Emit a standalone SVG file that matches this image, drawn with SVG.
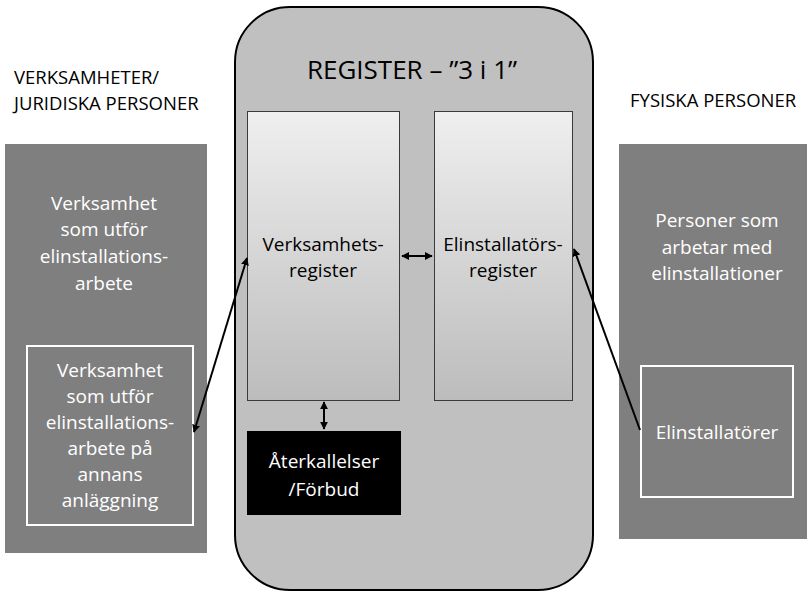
<svg xmlns="http://www.w3.org/2000/svg" width="807" height="592" viewBox="0 0 807 592">
<style>
  text { font-family: "Open Sans", "Liberation Sans", sans-serif; font-size: 19px; text-anchor: middle; }
  .w { fill: #ffffff; }
  .k { fill: #000000; }
  .hdr { text-anchor: start; font-size: 18.5px; }
  .panel { fill: #7f7f7f; }
  .inner { fill: none; stroke: #ffffff; stroke-width: 2; }
  .reg { fill: url(#g); stroke: #3a3a3a; stroke-width: 1; }
  .conn { stroke: #000; stroke-width: 2; fill: none; }
</style>
<defs>
  <linearGradient id="g" x1="0" y1="0" x2="0" y2="1">
    <stop offset="0" stop-color="#efefef"/>
    <stop offset="1" stop-color="#bcbcbc"/>
  </linearGradient>
  <marker id="ah" viewBox="0 0 10 10" refX="9" refY="5" markerWidth="4" markerHeight="4" orient="auto-start-reverse" markerUnits="strokeWidth">
    <path d="M0,0 L10,5 L0,10 z" fill="#000"/>
  </marker>
</defs>

<g id="register">
  <rect x="235" y="7" width="358" height="583" rx="55" ry="55" fill="#c0c0c0" stroke="#000" stroke-width="2"/>
  <text class="k" x="412" y="79" style="font-size:26px">REGISTER – ”3 i 1”</text>
</g>

<g id="hdr-left">
  <text class="k hdr" x="14" y="84">VERKSAMHETER/</text>
  <text class="k hdr" x="14" y="110">JURIDISKA PERSONER</text>
</g>
<g id="hdr-right">
  <text class="k hdr" x="630" y="107">FYSISKA PERSONER</text>
</g>

<g id="verksamhet-panel">
  <rect class="panel" x="5" y="144" width="202" height="409"/>
  <text class="w" x="104" y="210">Verksamhet</text>
  <text class="w" x="104" y="236">som utför</text>
  <text class="w" x="104" y="263">elinstallations-</text>
  <text class="w" x="104" y="290">arbete</text>
</g>
<g id="verksamhet-annans">
  <rect class="inner" x="27" y="346" width="166" height="179"/>
  <text class="w" x="110" y="377">Verksamhet</text>
  <text class="w" x="110" y="403">som utför</text>
  <text class="w" x="110" y="429">elinstallations-</text>
  <text class="w" x="110" y="455">arbete på</text>
  <text class="w" x="110" y="481">annans</text>
  <text class="w" x="110" y="507">anläggning</text>
</g>

<g id="fysiska-panel">
  <rect class="panel" x="619" y="144" width="190" height="395"/>
  <text class="w" x="717" y="227">Personer som</text>
  <text class="w" x="717" y="254">arbetar med</text>
  <text class="w" x="717" y="280">elinstallationer</text>
</g>
<g id="elinstallatorer">
  <rect class="inner" x="641" y="366" width="152" height="131"/>
  <text class="w" x="717" y="439">Elinstallatörer</text>
</g>

<g id="verksamhetsregister">
  <rect class="reg" x="247.5" y="111.5" width="152" height="289"/>
  <text class="k" x="323" y="251">Verksamhets-</text>
  <text class="k" x="323" y="277">register</text>
</g>
<g id="elinstallatorsregister">
  <rect class="reg" x="434.5" y="111.5" width="138" height="289"/>
  <text class="k" x="503" y="251">Elinstallatörs-</text>
  <text class="k" x="503" y="277">register</text>
</g>

<g id="aterkallelser">
  <rect x="247" y="431" width="154" height="84" fill="#000"/>
  <text class="w" x="324" y="468">Återkallelser</text>
  <text class="w" x="324" y="496">/Förbud</text>
</g>

<g id="connectors">
  <line class="conn" x1="402" y1="256" x2="432" y2="256" marker-start="url(#ah)" marker-end="url(#ah)"/>
  <line class="conn" x1="324" y1="402" x2="324" y2="429" marker-start="url(#ah)" marker-end="url(#ah)"/>
  <line class="conn" x1="194" y1="432" x2="247" y2="258" marker-start="url(#ah)" marker-end="url(#ah)"/>
  <line class="conn" x1="640" y1="430" x2="574" y2="249" marker-end="url(#ah)"/>
</g>
</svg>
